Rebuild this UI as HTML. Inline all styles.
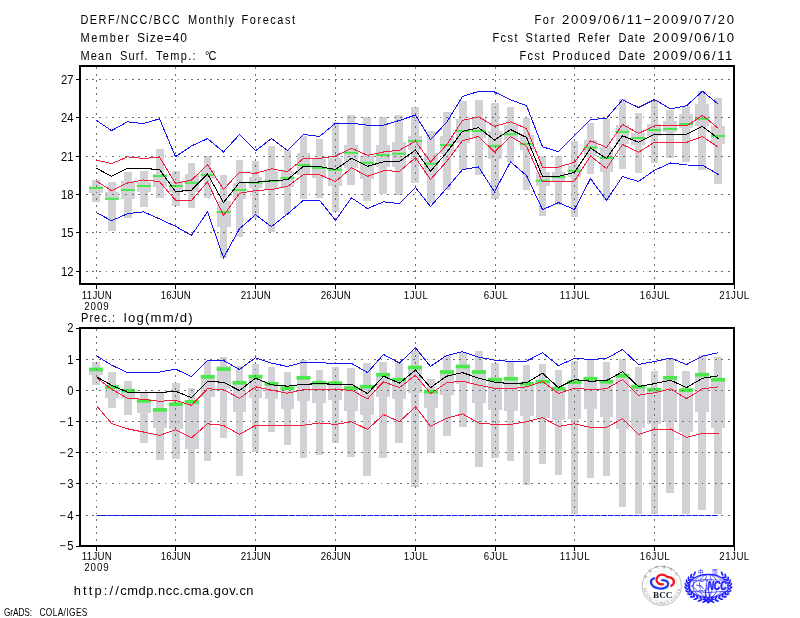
<!DOCTYPE html>
<html><head><meta charset="utf-8"><title>DERF/NCC/BCC Monthly Forecast</title>
<style>html,body{margin:0;padding:0;background:#fff}svg{display:block}text{font-family:'Liberation Sans', sans-serif;fill:#000}</style></head><body>
<svg width="800" height="618" viewBox="0 0 800 618">
<rect width="800" height="618" fill="#fff"/>
<g fill="#d2d2d6" shape-rendering="crispEdges">
<rect x="92.2" y="180.0" width="7.5" height="21.9"/>
<rect x="108.2" y="182.1" width="7.5" height="49.2"/>
<rect x="124.2" y="172.2" width="7.5" height="45.5"/>
<rect x="140.1" y="171.2" width="7.5" height="35.3"/>
<rect x="156.1" y="149.4" width="7.5" height="48.2"/>
<rect x="172.0" y="171.2" width="7.5" height="34.5"/>
<rect x="187.9" y="163.0" width="7.5" height="44.8"/>
<rect x="203.9" y="156.0" width="7.5" height="41.8"/>
<rect x="219.8" y="175.1" width="7.5" height="83.3"/>
<rect x="235.8" y="160.2" width="7.5" height="76.5"/>
<rect x="251.8" y="161.2" width="7.5" height="57.1"/>
<rect x="267.7" y="146.3" width="7.5" height="85.2"/>
<rect x="283.6" y="150.0" width="7.5" height="65.3"/>
<rect x="299.6" y="136.2" width="7.5" height="62.4"/>
<rect x="315.5" y="139.0" width="7.5" height="58.7"/>
<rect x="331.5" y="122.2" width="7.5" height="89.6"/>
<rect x="347.4" y="115.1" width="7.5" height="69.4"/>
<rect x="363.4" y="117.1" width="7.5" height="83.6"/>
<rect x="379.3" y="117.3" width="7.5" height="76.5"/>
<rect x="395.3" y="115.0" width="7.5" height="80.3"/>
<rect x="411.2" y="107.0" width="7.5" height="76.2"/>
<rect x="427.2" y="131.0" width="7.5" height="71.5"/>
<rect x="443.1" y="112.0" width="7.5" height="77.7"/>
<rect x="459.1" y="101.1" width="7.5" height="69.3"/>
<rect x="475.0" y="100.1" width="7.5" height="74.5"/>
<rect x="491.0" y="103.1" width="7.5" height="96.2"/>
<rect x="506.9" y="107.1" width="7.5" height="54.4"/>
<rect x="522.9" y="118.2" width="7.5" height="71.3"/>
<rect x="538.8" y="156.0" width="7.5" height="60.3"/>
<rect x="554.8" y="156.0" width="7.5" height="49.2"/>
<rect x="570.8" y="141.1" width="7.5" height="75.6"/>
<rect x="586.7" y="123.1" width="7.5" height="50.6"/>
<rect x="602.6" y="119.0" width="7.5" height="80.5"/>
<rect x="618.6" y="99.1" width="7.5" height="69.6"/>
<rect x="634.5" y="113.0" width="7.5" height="59.6"/>
<rect x="650.5" y="100.1" width="7.5" height="62.5"/>
<rect x="666.4" y="109.5" width="7.5" height="48.2"/>
<rect x="682.4" y="106.2" width="7.5" height="55.5"/>
<rect x="698.4" y="90.7" width="7.5" height="79.0"/>
<rect x="714.3" y="98.1" width="7.5" height="85.5"/>
<rect x="89.1" y="186.2" width="13.8" height="6.5"/>
<rect x="105.0" y="191.9" width="13.8" height="7.7"/>
<rect x="121.0" y="181.2" width="13.8" height="17.5"/>
<rect x="136.9" y="181.9" width="13.8" height="10.0"/>
<rect x="152.9" y="174.4" width="13.8" height="12.2"/>
<rect x="168.8" y="181.2" width="13.8" height="10.7"/>
<rect x="184.8" y="174.2" width="13.8" height="18.2"/>
<rect x="200.7" y="169.9" width="13.8" height="9.3"/>
<rect x="216.7" y="201.1" width="13.8" height="26.3"/>
<rect x="232.6" y="183.0" width="13.8" height="15.6"/>
<rect x="248.6" y="176.8" width="13.8" height="11.2"/>
<rect x="264.6" y="171.1" width="13.8" height="18.2"/>
<rect x="280.5" y="171.2" width="13.8" height="16.2"/>
<rect x="296.5" y="153.1" width="13.8" height="21.9"/>
<rect x="312.4" y="158.8" width="13.8" height="18.8"/>
<rect x="328.4" y="158.1" width="13.8" height="28.2"/>
<rect x="344.3" y="145.0" width="13.8" height="22.5"/>
<rect x="360.2" y="155.6" width="13.8" height="23.8"/>
<rect x="376.2" y="145.2" width="13.8" height="22.2"/>
<rect x="392.2" y="142.1" width="13.8" height="24.4"/>
<rect x="408.1" y="136.2" width="13.8" height="13.8"/>
<rect x="424.1" y="153.1" width="13.8" height="20.7"/>
<rect x="440.0" y="136.2" width="13.8" height="17.5"/>
<rect x="455.9" y="119.0" width="13.8" height="23.5"/>
<rect x="471.9" y="118.2" width="13.8" height="20.0"/>
<rect x="487.9" y="130.8" width="13.8" height="28.2"/>
<rect x="503.8" y="124.5" width="13.8" height="15.5"/>
<rect x="519.8" y="134.5" width="13.8" height="15.5"/>
<rect x="535.7" y="172.0" width="13.8" height="13.8"/>
<rect x="551.6" y="172.0" width="13.8" height="8.8"/>
<rect x="567.6" y="166.1" width="13.8" height="10.7"/>
<rect x="583.6" y="139.9" width="13.8" height="16.2"/>
<rect x="599.5" y="147.4" width="13.8" height="24.3"/>
<rect x="615.5" y="124.9" width="13.8" height="18.7"/>
<rect x="631.4" y="133.0" width="13.8" height="11.5"/>
<rect x="647.4" y="124.0" width="13.8" height="11.5"/>
<rect x="663.3" y="121.2" width="13.8" height="11.2"/>
<rect x="679.2" y="114.0" width="13.8" height="14.1"/>
<rect x="695.2" y="104.0" width="13.8" height="21.6"/>
<rect x="711.1" y="126.0" width="13.8" height="18.4"/>
</g>
<g fill="#4be84b">
<rect x="89.0" y="187.0" width="14" height="2"/>
<rect x="105.0" y="197.8" width="14" height="2"/>
<rect x="120.9" y="189.0" width="14" height="2"/>
<rect x="136.8" y="185.0" width="14" height="2"/>
<rect x="152.8" y="175.0" width="14" height="2"/>
<rect x="168.8" y="185.0" width="14" height="2"/>
<rect x="184.7" y="181.8" width="14" height="2"/>
<rect x="200.6" y="174.0" width="14" height="2"/>
<rect x="216.6" y="211.0" width="14" height="2"/>
<rect x="232.5" y="189.0" width="14" height="2"/>
<rect x="248.5" y="181.7" width="14" height="2"/>
<rect x="264.4" y="180.0" width="14" height="2"/>
<rect x="280.4" y="176.9" width="14" height="2"/>
<rect x="296.4" y="164.0" width="14" height="2"/>
<rect x="312.3" y="167.0" width="14" height="2"/>
<rect x="328.2" y="168.9" width="14" height="2"/>
<rect x="344.2" y="151.8" width="14" height="2"/>
<rect x="360.1" y="161.8" width="14" height="2"/>
<rect x="376.1" y="154.0" width="14" height="2"/>
<rect x="392.1" y="152.7" width="14" height="2"/>
<rect x="408.0" y="140.0" width="14" height="2"/>
<rect x="423.9" y="162.8" width="14" height="2"/>
<rect x="439.9" y="144.0" width="14" height="2"/>
<rect x="455.8" y="130.0" width="14" height="2"/>
<rect x="471.8" y="130.0" width="14" height="2"/>
<rect x="487.8" y="144.9" width="14" height="2"/>
<rect x="503.7" y="133.2" width="14" height="2"/>
<rect x="519.6" y="143.0" width="14" height="2"/>
<rect x="535.6" y="179.8" width="14" height="2"/>
<rect x="551.5" y="176.0" width="14" height="2"/>
<rect x="567.5" y="169.8" width="14" height="2"/>
<rect x="583.5" y="146.5" width="14" height="2"/>
<rect x="599.4" y="157.0" width="14" height="2"/>
<rect x="615.4" y="130.8" width="14" height="2"/>
<rect x="631.3" y="137.0" width="14" height="2"/>
<rect x="647.2" y="129.0" width="14" height="2"/>
<rect x="663.2" y="128.0" width="14" height="2"/>
<rect x="679.1" y="123.0" width="14" height="2"/>
<rect x="695.1" y="117.8" width="14" height="2"/>
<rect x="711.0" y="135.0" width="14" height="2"/>
</g>
<g stroke="#6e6e6e" stroke-width="1" stroke-dasharray="1.8 4.75" fill="none" shape-rendering="crispEdges">
<line x1="85.9" y1="79.2" x2="734" y2="79.2"/>
<line x1="85.9" y1="117.6" x2="734" y2="117.6"/>
<line x1="85.9" y1="156.1" x2="734" y2="156.1"/>
<line x1="85.9" y1="194.5" x2="734" y2="194.5"/>
<line x1="85.9" y1="232.9" x2="734" y2="232.9"/>
<line x1="85.9" y1="271.4" x2="734" y2="271.4"/>
<line x1="96.5" y1="67.2" x2="96.5" y2="284"/>
<line x1="175.5" y1="67.2" x2="175.5" y2="284"/>
<line x1="255.5" y1="67.2" x2="255.5" y2="284"/>
<line x1="335.5" y1="67.2" x2="335.5" y2="284"/>
<line x1="415.5" y1="67.2" x2="415.5" y2="284"/>
<line x1="495.5" y1="67.2" x2="495.5" y2="284"/>
<line x1="574.5" y1="67.2" x2="574.5" y2="284"/>
<line x1="654.5" y1="67.2" x2="654.5" y2="284"/>
</g>
<polyline points="96.5,120.4 111.5,130.6 127.5,121.8 143.5,123.6 159.5,118.8 175.5,156.7 191.5,145.9 207.5,138.6 223.5,151.9 239.5,134.6 255.5,150.7 271.5,138.6 287.5,150.6 303.5,134.5 319.5,136.5 335.5,123.2 351.5,123.2 367.5,125.2 383.5,125.2 399.5,120.4 415.5,115.0 430.5,139.5 446.5,122.5 462.5,96.5 478.5,91.4 494.5,92.0 510.5,99.7 526.5,105.7 542.5,146.8 558.5,151.7 574.5,135.5 590.5,119.5 606.5,118.4 622.5,99.7 638.5,107.5 654.5,99.5 670.5,109.0 686.5,105.8 702.5,91.2 718.5,104.4" fill="none" stroke="#1414f0" stroke-width="1.0" stroke-linejoin="miter" shape-rendering="crispEdges"/>
<polyline points="96.5,212.7 111.5,220.7 127.5,213.7 143.5,211.8 159.5,218.9 175.5,226.3 191.5,235.3 207.5,211.8 223.5,257.8 239.5,228.7 255.5,214.8 271.5,226.6 287.5,213.9 303.5,200.2 319.5,200.2 335.5,220.3 351.5,197.8 367.5,208.6 383.5,201.8 399.5,203.6 415.5,187.5 430.5,206.5 446.5,188.5 462.5,169.6 478.5,167.0 494.5,191.8 510.5,161.8 526.5,175.5 542.5,209.6 558.5,202.6 574.5,209.5 590.5,178.6 606.5,200.3 622.5,176.6 638.5,181.5 654.5,170.3 670.5,163.0 686.5,165.0 702.5,165.2 718.5,174.6" fill="none" stroke="#1414f0" stroke-width="1.0" stroke-linejoin="miter" shape-rendering="crispEdges"/>
<polyline points="96.5,160.1 111.5,163.6 127.5,156.9 143.5,158.4 159.5,157.2 175.5,183.4 191.5,180.1 207.5,164.6 223.5,189.5 239.5,172.2 255.5,173.3 271.5,168.8 287.5,171.6 303.5,158.4 319.5,158.4 335.5,156.0 351.5,148.2 367.5,155.4 383.5,152.0 399.5,150.1 415.5,141.2 430.5,162.1 446.5,145.0 462.5,120.4 478.5,116.9 494.5,126.3 510.5,121.8 526.5,128.5 542.5,167.1 558.5,167.1 574.5,162.2 590.5,140.7 606.5,147.5 622.5,124.5 638.5,133.4 654.5,125.8 670.5,125.9 686.5,125.9 702.5,115.4 718.5,128.5" fill="none" stroke="#f01e3c" stroke-width="1.0" stroke-linejoin="miter" shape-rendering="crispEdges"/>
<polyline points="96.5,181.0 111.5,190.6 127.5,183.0 143.5,180.0 159.5,181.6 175.5,200.3 191.5,200.3 207.5,181.9 223.5,215.6 239.5,193.3 255.5,190.6 271.5,189.5 287.5,186.4 303.5,174.4 319.5,174.7 335.5,181.6 351.5,167.7 367.5,176.4 383.5,170.7 399.5,171.3 415.5,157.7 430.5,179.4 446.5,161.6 462.5,140.6 478.5,136.5 494.5,152.0 510.5,136.5 526.5,146.1 542.5,182.0 558.5,181.2 574.5,181.0 590.5,155.9 606.5,168.6 622.5,144.5 638.5,152.3 654.5,142.2 670.5,142.4 686.5,142.4 702.5,136.5 718.5,147.4" fill="none" stroke="#f01e3c" stroke-width="1.0" stroke-linejoin="miter" shape-rendering="crispEdges"/>
<polyline points="96.5,168.2 111.5,176.4 127.5,168.2 143.5,168.5 159.5,169.5 175.5,191.6 191.5,190.3 207.5,173.8 223.5,202.6 239.5,182.4 255.5,182.3 271.5,180.8 287.5,179.7 303.5,166.3 319.5,166.6 335.5,169.5 351.5,158.4 367.5,166.3 383.5,161.8 399.5,161.3 415.5,150.1 430.5,171.3 446.5,152.7 462.5,131.3 478.5,127.7 494.5,140.0 510.5,129.6 526.5,137.4 542.5,176.4 558.5,176.4 574.5,172.4 590.5,148.1 606.5,158.5 622.5,135.7 638.5,142.3 654.5,134.3 670.5,134.4 686.5,134.3 702.5,126.4 718.5,138.7" fill="none" stroke="#000" stroke-width="1.05" stroke-linejoin="miter" shape-rendering="crispEdges"/>
<rect x="80" y="66" width="654" height="218" fill="none" stroke="#000" stroke-width="2"/>
<g stroke="#000" stroke-width="1" shape-rendering="crispEdges">
<line x1="76" y1="79.2" x2="80" y2="79.2"/>
<line x1="76" y1="117.6" x2="80" y2="117.6"/>
<line x1="76" y1="156.1" x2="80" y2="156.1"/>
<line x1="76" y1="194.5" x2="80" y2="194.5"/>
<line x1="76" y1="232.9" x2="80" y2="232.9"/>
<line x1="76" y1="271.4" x2="80" y2="271.4"/>
<line x1="96.5" y1="284" x2="96.5" y2="288.5"/>
<line x1="175.5" y1="284" x2="175.5" y2="288.5"/>
<line x1="255.5" y1="284" x2="255.5" y2="288.5"/>
<line x1="335.5" y1="284" x2="335.5" y2="288.5"/>
<line x1="415.5" y1="284" x2="415.5" y2="288.5"/>
<line x1="495.5" y1="284" x2="495.5" y2="288.5"/>
<line x1="574.5" y1="284" x2="574.5" y2="288.5"/>
<line x1="654.5" y1="284" x2="654.5" y2="288.5"/>
<line x1="734.0" y1="284" x2="734.0" y2="288.5"/>
</g>
<text transform="translate(73.4,83.6) scale(0.92,1)" font-size="12.2" text-anchor="end">27</text>
<text transform="translate(73.4,122.0) scale(0.92,1)" font-size="12.2" text-anchor="end">24</text>
<text transform="translate(73.4,160.5) scale(0.92,1)" font-size="12.2" text-anchor="end">21</text>
<text transform="translate(73.4,198.9) scale(0.92,1)" font-size="12.2" text-anchor="end">18</text>
<text transform="translate(73.4,237.3) scale(0.92,1)" font-size="12.2" text-anchor="end">15</text>
<text transform="translate(73.4,275.8) scale(0.92,1)" font-size="12.2" text-anchor="end">12</text>
<text transform="translate(96.8,298.6) scale(0.84,1)" font-size="11.6" text-anchor="middle" textLength="35.7" lengthAdjust="spacing">11JUN</text>
<text transform="translate(175.8,298.6) scale(0.84,1)" font-size="11.6" text-anchor="middle" textLength="35.7" lengthAdjust="spacing">16JUN</text>
<text transform="translate(255.8,298.6) scale(0.84,1)" font-size="11.6" text-anchor="middle" textLength="35.7" lengthAdjust="spacing">21JUN</text>
<text transform="translate(335.8,298.6) scale(0.84,1)" font-size="11.6" text-anchor="middle" textLength="35.7" lengthAdjust="spacing">26JUN</text>
<text transform="translate(415.8,298.6) scale(0.84,1)" font-size="11.6" text-anchor="middle" textLength="28.6" lengthAdjust="spacing">1JUL</text>
<text transform="translate(495.8,298.6) scale(0.84,1)" font-size="11.6" text-anchor="middle" textLength="28.6" lengthAdjust="spacing">6JUL</text>
<text transform="translate(574.8,298.6) scale(0.84,1)" font-size="11.6" text-anchor="middle" textLength="35.7" lengthAdjust="spacing">11JUL</text>
<text transform="translate(654.8,298.6) scale(0.84,1)" font-size="11.6" text-anchor="middle" textLength="35.7" lengthAdjust="spacing">16JUL</text>
<text transform="translate(734.3,298.6) scale(0.84,1)" font-size="11.6" text-anchor="middle" textLength="35.7" lengthAdjust="spacing">21JUL</text>
<text transform="translate(96.5,310.20000000000005) scale(0.84,1)" font-size="11.6" text-anchor="middle" textLength="29.2" lengthAdjust="spacing">2009</text>
<g fill="#d2d2d6" shape-rendering="crispEdges">
<rect x="92.2" y="362.1" width="7.5" height="22.7"/>
<rect x="108.2" y="372.1" width="7.5" height="35.6"/>
<rect x="124.2" y="381.2" width="7.5" height="33.4"/>
<rect x="140.1" y="393.2" width="7.5" height="49.5"/>
<rect x="156.1" y="393.2" width="7.5" height="66.4"/>
<rect x="172.0" y="383.2" width="7.5" height="75.4"/>
<rect x="187.9" y="388.2" width="7.5" height="94.5"/>
<rect x="203.9" y="361.1" width="7.5" height="99.5"/>
<rect x="219.8" y="357.1" width="7.5" height="80.6"/>
<rect x="235.8" y="366.1" width="7.5" height="109.6"/>
<rect x="251.8" y="364.1" width="7.5" height="87.5"/>
<rect x="267.7" y="367.1" width="7.5" height="64.5"/>
<rect x="283.6" y="372.1" width="7.5" height="72.6"/>
<rect x="299.6" y="360.1" width="7.5" height="97.5"/>
<rect x="315.5" y="370.1" width="7.5" height="84.6"/>
<rect x="331.5" y="367.1" width="7.5" height="75.6"/>
<rect x="347.4" y="368.1" width="7.5" height="88.6"/>
<rect x="363.4" y="363.1" width="7.5" height="112.6"/>
<rect x="379.3" y="362.1" width="7.5" height="95.5"/>
<rect x="395.3" y="363.1" width="7.5" height="79.6"/>
<rect x="411.2" y="351.1" width="7.5" height="135.6"/>
<rect x="427.2" y="379.2" width="7.5" height="73.4"/>
<rect x="443.1" y="355.1" width="7.5" height="80.5"/>
<rect x="459.1" y="352.1" width="7.5" height="74.5"/>
<rect x="475.0" y="351.1" width="7.5" height="115.6"/>
<rect x="491.0" y="363.1" width="7.5" height="94.5"/>
<rect x="506.9" y="362.1" width="7.5" height="98.5"/>
<rect x="522.9" y="365.1" width="7.5" height="119.6"/>
<rect x="538.8" y="364.1" width="7.5" height="99.6"/>
<rect x="554.8" y="370.1" width="7.5" height="104.6"/>
<rect x="570.8" y="361.1" width="7.5" height="152.7"/>
<rect x="586.7" y="360.1" width="7.5" height="117.5"/>
<rect x="602.6" y="362.1" width="7.5" height="113.5"/>
<rect x="618.6" y="359.1" width="7.5" height="147.6"/>
<rect x="634.5" y="367.1" width="7.5" height="146.7"/>
<rect x="650.5" y="371.1" width="7.5" height="142.7"/>
<rect x="666.4" y="359.1" width="7.5" height="133.6"/>
<rect x="682.4" y="371.1" width="7.5" height="142.7"/>
<rect x="698.4" y="355.1" width="7.5" height="154.7"/>
<rect x="714.3" y="357.1" width="7.5" height="156.7"/>
<rect x="89.1" y="368.1" width="13.8" height="7.1"/>
<rect x="105.0" y="385.2" width="13.8" height="12.6"/>
<rect x="121.0" y="389.1" width="13.8" height="8.5"/>
<rect x="136.9" y="399.3" width="13.8" height="13.7"/>
<rect x="152.9" y="408.3" width="13.8" height="19.2"/>
<rect x="168.8" y="403.3" width="13.8" height="25.2"/>
<rect x="184.8" y="400.3" width="13.8" height="48.3"/>
<rect x="200.7" y="375.2" width="13.8" height="22.0"/>
<rect x="216.7" y="366.0" width="13.8" height="23.0"/>
<rect x="232.6" y="381.2" width="13.8" height="31.2"/>
<rect x="248.6" y="375.2" width="13.8" height="22.5"/>
<rect x="264.6" y="382.2" width="13.8" height="16.7"/>
<rect x="280.5" y="386.8" width="13.8" height="22.1"/>
<rect x="296.5" y="376.2" width="13.8" height="24.5"/>
<rect x="312.4" y="381.2" width="13.8" height="21.7"/>
<rect x="328.4" y="382.2" width="13.8" height="17.5"/>
<rect x="344.3" y="386.2" width="13.8" height="24.7"/>
<rect x="360.2" y="385.2" width="13.8" height="29.5"/>
<rect x="376.2" y="373.2" width="13.8" height="23.6"/>
<rect x="392.2" y="378.2" width="13.8" height="20.7"/>
<rect x="408.1" y="366.1" width="13.8" height="27.1"/>
<rect x="424.1" y="390.2" width="13.8" height="17.5"/>
<rect x="440.0" y="370.1" width="13.8" height="24.7"/>
<rect x="455.9" y="364.9" width="13.8" height="19.0"/>
<rect x="471.9" y="370.1" width="13.8" height="32.5"/>
<rect x="487.9" y="377.6" width="13.8" height="31.9"/>
<rect x="503.8" y="377.2" width="13.8" height="33.4"/>
<rect x="519.8" y="382.2" width="13.8" height="33.4"/>
<rect x="535.7" y="380.2" width="13.8" height="38.2"/>
<rect x="551.6" y="386.8" width="13.8" height="32.7"/>
<rect x="567.6" y="380.2" width="13.8" height="38.5"/>
<rect x="583.6" y="377.2" width="13.8" height="31.7"/>
<rect x="599.5" y="380.2" width="13.8" height="37.1"/>
<rect x="615.5" y="374.2" width="13.8" height="54.6"/>
<rect x="631.4" y="385.2" width="13.8" height="42.6"/>
<rect x="647.4" y="388.2" width="13.8" height="35.6"/>
<rect x="663.3" y="376.2" width="13.8" height="45.5"/>
<rect x="679.2" y="388.8" width="13.8" height="43.0"/>
<rect x="695.2" y="373.2" width="13.8" height="38.5"/>
<rect x="711.1" y="378.2" width="13.8" height="49.6"/>
</g>
<g fill="#4be84b">
<rect x="89.0" y="367.6" width="14" height="3.7"/>
<rect x="105.0" y="385.3" width="14" height="3.7"/>
<rect x="120.9" y="388.8" width="14" height="3.7"/>
<rect x="136.8" y="399.0" width="14" height="3.7"/>
<rect x="152.8" y="408.0" width="14" height="3.7"/>
<rect x="168.8" y="402.4" width="14" height="3.7"/>
<rect x="184.7" y="400.0" width="14" height="3.7"/>
<rect x="200.6" y="374.9" width="14" height="3.7"/>
<rect x="216.6" y="367.2" width="14" height="3.7"/>
<rect x="232.5" y="380.9" width="14" height="3.7"/>
<rect x="248.5" y="374.8" width="14" height="3.7"/>
<rect x="264.4" y="381.9" width="14" height="3.7"/>
<rect x="280.4" y="386.3" width="14" height="3.7"/>
<rect x="296.4" y="375.9" width="14" height="3.7"/>
<rect x="312.3" y="380.9" width="14" height="3.7"/>
<rect x="328.2" y="381.3" width="14" height="3.7"/>
<rect x="344.2" y="386.3" width="14" height="3.7"/>
<rect x="360.1" y="384.9" width="14" height="3.7"/>
<rect x="376.1" y="372.9" width="14" height="3.7"/>
<rect x="392.1" y="377.8" width="14" height="3.7"/>
<rect x="408.0" y="365.6" width="14" height="3.7"/>
<rect x="423.9" y="389.8" width="14" height="3.7"/>
<rect x="439.9" y="370.2" width="14" height="3.7"/>
<rect x="455.8" y="364.6" width="14" height="3.7"/>
<rect x="471.8" y="370.2" width="14" height="3.7"/>
<rect x="487.8" y="377.8" width="14" height="3.7"/>
<rect x="503.7" y="376.9" width="14" height="3.7"/>
<rect x="519.6" y="381.8" width="14" height="3.7"/>
<rect x="535.6" y="379.8" width="14" height="3.7"/>
<rect x="551.5" y="386.8" width="14" height="3.7"/>
<rect x="567.5" y="380.3" width="14" height="3.7"/>
<rect x="583.5" y="376.9" width="14" height="3.7"/>
<rect x="599.4" y="379.8" width="14" height="3.7"/>
<rect x="615.4" y="373.9" width="14" height="3.7"/>
<rect x="631.3" y="384.9" width="14" height="3.7"/>
<rect x="647.2" y="387.8" width="14" height="3.7"/>
<rect x="663.2" y="375.9" width="14" height="3.7"/>
<rect x="679.1" y="388.3" width="14" height="3.7"/>
<rect x="695.1" y="372.9" width="14" height="3.7"/>
<rect x="711.0" y="377.9" width="14" height="3.7"/>
</g>
<g stroke="#6e6e6e" stroke-width="1" stroke-dasharray="1.8 4.75" fill="none" shape-rendering="crispEdges">
<line x1="85.9" y1="359.5" x2="734" y2="359.5"/>
<line x1="85.9" y1="390.6" x2="734" y2="390.6"/>
<line x1="85.9" y1="421.6" x2="734" y2="421.6"/>
<line x1="85.9" y1="452.4" x2="734" y2="452.4"/>
<line x1="85.9" y1="483.4" x2="734" y2="483.4"/>
<line x1="85.9" y1="515.4" x2="734" y2="515.4"/>
<line x1="96.5" y1="329.2" x2="96.5" y2="546"/>
<line x1="175.5" y1="329.2" x2="175.5" y2="546"/>
<line x1="255.5" y1="329.2" x2="255.5" y2="546"/>
<line x1="335.5" y1="329.2" x2="335.5" y2="546"/>
<line x1="415.5" y1="329.2" x2="415.5" y2="546"/>
<line x1="495.5" y1="329.2" x2="495.5" y2="546"/>
<line x1="574.5" y1="329.2" x2="574.5" y2="546"/>
<line x1="654.5" y1="329.2" x2="654.5" y2="546"/>
</g>
<polyline points="96.5,355.7 111.5,365.1 127.5,372.6 143.5,372.6 159.5,372.1 175.5,369.1 191.5,376.6 207.5,360.5 223.5,360.5 239.5,369.5 255.5,357.7 271.5,363.1 287.5,366.5 303.5,362.1 319.5,362.7 335.5,363.5 351.5,363.5 367.5,372.6 383.5,354.5 399.5,363.1 415.5,347.7 430.5,366.5 446.5,355.5 462.5,351.7 478.5,357.1 494.5,360.1 510.5,361.5 526.5,361.1 542.5,352.7 558.5,365.7 574.5,358.3 590.5,359.5 606.5,358.5 622.5,349.5 638.5,364.5 654.5,361.5 670.5,358.1 686.5,364.5 702.5,356.1 718.5,352.7" fill="none" stroke="#1414f0" stroke-width="1.0" stroke-linejoin="miter" shape-rendering="crispEdges"/>
<polyline points="96.5,377.6 111.5,389.2 127.5,398.3 143.5,399.3 159.5,401.3 175.5,400.3 191.5,405.3 207.5,388.8 223.5,389.6 239.5,398.3 255.5,386.8 271.5,390.2 287.5,393.2 303.5,389.6 319.5,389.6 335.5,389.6 351.5,390.2 367.5,398.9 383.5,381.8 399.5,387.6 415.5,375.2 430.5,393.6 446.5,382.8 462.5,381.2 478.5,385.2 494.5,388.2 510.5,388.8 526.5,386.8 542.5,381.6 558.5,393.6 574.5,388.2 590.5,389.6 606.5,388.8 622.5,379.6 638.5,395.2 654.5,392.8 670.5,388.8 686.5,398.7 702.5,388.8 718.5,386.8" fill="none" stroke="#f01e3c" stroke-width="1.0" stroke-linejoin="miter" shape-rendering="crispEdges"/>
<polyline points="96.5,405.7 111.5,423.4 127.5,428.8 143.5,432.0 159.5,435.4 175.5,429.8 191.5,437.8 207.5,423.8 223.5,425.4 239.5,434.4 255.5,425.4 271.5,425.4 287.5,425.4 303.5,425.2 319.5,423.0 335.5,424.4 351.5,421.7 367.5,429.4 383.5,414.6 399.5,421.6 415.5,406.7 430.5,426.4 446.5,418.3 462.5,413.9 478.5,423.0 494.5,424.4 510.5,424.4 526.5,421.7 542.5,417.7 558.5,426.4 574.5,423.8 590.5,427.4 606.5,427.4 622.5,418.7 638.5,434.4 654.5,429.4 670.5,429.0 686.5,437.4 702.5,433.4 718.5,433.4" fill="none" stroke="#f01e3c" stroke-width="1.0" stroke-linejoin="miter" shape-rendering="crispEdges"/>
<polyline points="96.5,376.8 111.5,385.2 127.5,392.2 143.5,392.6 159.5,392.6 175.5,391.2 191.5,397.7 207.5,381.6 223.5,382.2 239.5,390.6 255.5,378.2 271.5,384.8 287.5,386.2 303.5,384.2 319.5,383.8 335.5,384.2 351.5,384.2 367.5,393.6 383.5,376.2 399.5,383.2 415.5,370.1 430.5,387.6 446.5,376.2 462.5,372.6 478.5,378.2 494.5,382.2 510.5,383.6 526.5,382.8 542.5,373.2 558.5,387.6 574.5,379.6 590.5,381.2 606.5,380.6 622.5,371.7 638.5,386.6 654.5,383.6 670.5,380.2 686.5,387.6 702.5,378.2 718.5,375.8" fill="none" stroke="#000" stroke-width="1.05" stroke-linejoin="miter" shape-rendering="crispEdges"/>
<rect x="80" y="328" width="654" height="218" fill="none" stroke="#000" stroke-width="2"/>
<g stroke="#000" stroke-width="1" shape-rendering="crispEdges">
<line x1="76" y1="328.0" x2="80" y2="328.0"/>
<line x1="76" y1="359.5" x2="80" y2="359.5"/>
<line x1="76" y1="390.6" x2="80" y2="390.6"/>
<line x1="76" y1="421.6" x2="80" y2="421.6"/>
<line x1="76" y1="452.4" x2="80" y2="452.4"/>
<line x1="76" y1="483.4" x2="80" y2="483.4"/>
<line x1="76" y1="515.4" x2="80" y2="515.4"/>
<line x1="76" y1="546.0" x2="80" y2="546.0"/>
<line x1="96.5" y1="546" x2="96.5" y2="550.5"/>
<line x1="175.5" y1="546" x2="175.5" y2="550.5"/>
<line x1="255.5" y1="546" x2="255.5" y2="550.5"/>
<line x1="335.5" y1="546" x2="335.5" y2="550.5"/>
<line x1="415.5" y1="546" x2="415.5" y2="550.5"/>
<line x1="495.5" y1="546" x2="495.5" y2="550.5"/>
<line x1="574.5" y1="546" x2="574.5" y2="550.5"/>
<line x1="654.5" y1="546" x2="654.5" y2="550.5"/>
<line x1="734.0" y1="546" x2="734.0" y2="550.5"/>
</g>
<text transform="translate(73.4,332.4) scale(0.92,1)" font-size="12.2" text-anchor="end">2</text>
<text transform="translate(73.4,363.9) scale(0.92,1)" font-size="12.2" text-anchor="end">1</text>
<text transform="translate(73.4,395.0) scale(0.92,1)" font-size="12.2" text-anchor="end">0</text>
<text transform="translate(73.4,426.0) scale(0.92,1)" font-size="12.2" text-anchor="end">−<tspan dx="1.6">1</tspan></text>
<text transform="translate(73.4,456.8) scale(0.92,1)" font-size="12.2" text-anchor="end">−<tspan dx="1.6">2</tspan></text>
<text transform="translate(73.4,487.8) scale(0.92,1)" font-size="12.2" text-anchor="end">−<tspan dx="1.6">3</tspan></text>
<text transform="translate(73.4,519.8) scale(0.92,1)" font-size="12.2" text-anchor="end">−<tspan dx="1.6">4</tspan></text>
<text transform="translate(73.4,550.4) scale(0.92,1)" font-size="12.2" text-anchor="end">−<tspan dx="1.6">5</tspan></text>
<text transform="translate(96.8,559.6) scale(0.84,1)" font-size="11.6" text-anchor="middle" textLength="35.7" lengthAdjust="spacing">11JUN</text>
<text transform="translate(175.8,559.6) scale(0.84,1)" font-size="11.6" text-anchor="middle" textLength="35.7" lengthAdjust="spacing">16JUN</text>
<text transform="translate(255.8,559.6) scale(0.84,1)" font-size="11.6" text-anchor="middle" textLength="35.7" lengthAdjust="spacing">21JUN</text>
<text transform="translate(335.8,559.6) scale(0.84,1)" font-size="11.6" text-anchor="middle" textLength="35.7" lengthAdjust="spacing">26JUN</text>
<text transform="translate(415.8,559.6) scale(0.84,1)" font-size="11.6" text-anchor="middle" textLength="28.6" lengthAdjust="spacing">1JUL</text>
<text transform="translate(495.8,559.6) scale(0.84,1)" font-size="11.6" text-anchor="middle" textLength="28.6" lengthAdjust="spacing">6JUL</text>
<text transform="translate(574.8,559.6) scale(0.84,1)" font-size="11.6" text-anchor="middle" textLength="35.7" lengthAdjust="spacing">11JUL</text>
<text transform="translate(654.8,559.6) scale(0.84,1)" font-size="11.6" text-anchor="middle" textLength="35.7" lengthAdjust="spacing">16JUL</text>
<text transform="translate(734.3,559.6) scale(0.84,1)" font-size="11.6" text-anchor="middle" textLength="35.7" lengthAdjust="spacing">21JUL</text>
<text transform="translate(96.5,571.2) scale(0.84,1)" font-size="11.6" text-anchor="middle" textLength="29.2" lengthAdjust="spacing">2009</text>
<line x1="96.5" y1="515.5" x2="718.5" y2="515.5" stroke="#1414f0" stroke-width="1.15" stroke-dasharray="5.7 0.8" stroke-dashoffset="2.2"/>
<g>
<text transform="translate(80.4,23.7) scale(0.84,1)" font-size="13.1" textLength="118.1" lengthAdjust="spacing">DERF/NCC/BCC</text>
<text transform="translate(188,23.7) scale(0.84,1)" font-size="13.1" textLength="54.8" lengthAdjust="spacing">Monthly</text>
<text transform="translate(241.6,23.7) scale(0.84,1)" font-size="13.1" textLength="63.6" lengthAdjust="spacing">Forecast</text>
</g>
<g>
<text transform="translate(80.4,42) scale(0.84,1)" font-size="13.1" textLength="57.9" lengthAdjust="spacing">Member</text>
<text transform="translate(137,42) scale(0.92,1)" font-size="13.1" textLength="54.3" lengthAdjust="spacing">Size=40</text>
</g>
<g>
<text transform="translate(80.4,60) scale(0.84,1)" font-size="13.1" textLength="37.1" lengthAdjust="spacing">Mean</text>
<text transform="translate(120,60) scale(0.84,1)" font-size="13.1" textLength="32.9" lengthAdjust="spacing">Surf.</text>
<text transform="translate(156,60) scale(0.84,1)" font-size="13.1" textLength="47.1" lengthAdjust="spacing">Temp.:</text>
<text transform="translate(205,60) scale(0.84,1)" font-size="13.1" textLength="13.6" lengthAdjust="spacing">°C</text>
</g>
<g>
<text transform="translate(534.4,23.6) scale(0.84,1)" font-size="13.1" textLength="23.8" lengthAdjust="spacing">For</text>
<text transform="translate(562,23.6) scale(1.0,1)" font-size="13.1" textLength="172.0" lengthAdjust="spacing">2009/06/11−2009/07/20</text>
</g>
<g>
<text transform="translate(492.4,41.6) scale(0.84,1)" font-size="13.1" textLength="30.0" lengthAdjust="spacing">Fcst</text>
<text transform="translate(525.6,41.6) scale(0.84,1)" font-size="13.1" textLength="52.9" lengthAdjust="spacing">Started</text>
<text transform="translate(578,41.6) scale(0.84,1)" font-size="13.1" textLength="38.1" lengthAdjust="spacing">Refer</text>
<text transform="translate(618.4,41.6) scale(0.84,1)" font-size="13.1" textLength="31.7" lengthAdjust="spacing">Date</text>
<text transform="translate(653,41.6) scale(1.0,1)" font-size="13.1" textLength="81.0" lengthAdjust="spacing">2009/06/10</text>
</g>
<g>
<text transform="translate(519.4,59.6) scale(0.84,1)" font-size="13.1" textLength="29.8" lengthAdjust="spacing">Fcst</text>
<text transform="translate(552.4,59.6) scale(0.84,1)" font-size="13.1" textLength="68.6" lengthAdjust="spacing">Produced</text>
<text transform="translate(618.4,59.6) scale(0.84,1)" font-size="13.1" textLength="31.7" lengthAdjust="spacing">Date</text>
<text transform="translate(653,59.6) scale(1.0,1)" font-size="13.1" textLength="79.4" lengthAdjust="spacing">2009/06/11</text>
</g>
<g>
<text transform="translate(81,322) scale(0.84,1)" font-size="13.1" textLength="40.5" lengthAdjust="spacing">Prec.:</text>
<text transform="translate(123.75,322) scale(1.0,1)" font-size="13.1" textLength="68.8" lengthAdjust="spacing">log(mm/d)</text>
</g>
<text transform="translate(0,595) scale(0.95,1)" font-size="13.6"><tspan x="77.6" textLength="47.4" lengthAdjust="spacing">http://</tspan><tspan x="126.5" textLength="140.4" lengthAdjust="spacing">cmdp.ncc.cma.gov.cn</tspan></text>
<g>
<text transform="translate(4,616) scale(0.8,1)" font-size="10.4" textLength="35.0" lengthAdjust="spacing">GrADS:</text>
<text transform="translate(39.4,616) scale(0.8,1)" font-size="10.4" textLength="60.0" lengthAdjust="spacing">COLA/IGES</text>
</g>
<g id="bcc">
<circle cx="661.8" cy="585.8" r="19.6" fill="#fff" stroke="#bdbdbd" stroke-width="1"/>
<circle cx="661.8" cy="585.8" r="15.6" fill="none" stroke="#e4e4e4" stroke-width="0.7"/>
<defs><path id="bccTop" d="M 644.4 585.8 A 17.4 17.4 0 0 1 679.2 585.8"/><path id="bccBot" d="M 643.2 585.8 A 18.6 18.6 0 0 0 680.4 585.8"/></defs>
<text font-size="3.6" style="font-family:'Liberation Sans','Noto Sans CJK SC',sans-serif;fill:#7a7a7a" text-anchor="middle" letter-spacing="3.2"><textPath href="#bccTop" startOffset="50%">北京气候中心</textPath></text>
<text font-size="3.3" style="font-family:'Liberation Serif',serif;fill:#777" text-anchor="middle" letter-spacing="0.5"><textPath href="#bccBot" startOffset="50%">BEIJING CLIMATE CENTER</textPath></text>
<g fill="none" stroke-linecap="round" stroke-linejoin="round" transform="translate(0,0.9)">
<path d="M662.6 583.4 C659.5 583.6 656.4 581.8 656.5 579 C656.6 575.8 659.2 573.7 662 573.8 C664.4 573.9 666.2 575 667.6 576.3 C669.8 575.9 672 576.8 673.2 578.6 C674.6 580.8 673.6 583.2 671.6 584.6" stroke="#f0141e" stroke-width="2.3"/>
<path d="M663.8 583.2 L662.6 583.4 M671.6 584.6 L670.6 585.3" stroke="#f0141e" stroke-width="1.1"/>
<path d="M653.8 577.6 C651.6 578.4 650.6 580 651 581.8 C651.6 584.6 654.8 586.8 658.6 587.4 C662.4 588 666 587.4 667.6 585 C669 582.8 667.8 580.4 665.4 579.7 C664.4 579.4 663.4 579.3 662.6 579.3" stroke="#1e3cf0" stroke-width="2.3"/>
<path d="M655 576.9 L653.8 577.6 M662.6 579.3 L661.4 579.1" stroke="#1e3cf0" stroke-width="1.1"/>
</g>
<text x="662.7" y="597.8" font-size="9" font-weight="bold" text-anchor="middle" textLength="19.2" lengthAdjust="spacingAndGlyphs" style="font-family:'Liberation Serif',serif;fill:#141e28">BCC</text>
</g>
<g id="ncc" fill="none" stroke="#2222ff">
<g fill="#2222ff" stroke="none">
<ellipse cx="722.1" cy="573.7" rx="2.5" ry="0.95" transform="rotate(67 722.1 573.7)"/>
<ellipse cx="725.5" cy="576.0" rx="2.5" ry="0.95" transform="rotate(78 725.5 576.0)"/>
<ellipse cx="723.5" cy="577.5" rx="2.1" ry="0.95" transform="rotate(0 723.5 577.5)"/>
<ellipse cx="728.1" cy="578.7" rx="2.5" ry="0.95" transform="rotate(91 728.1 578.7)"/>
<ellipse cx="725.9" cy="579.8" rx="2.1" ry="0.95" transform="rotate(13 725.9 579.8)"/>
<ellipse cx="729.8" cy="581.7" rx="2.5" ry="0.95" transform="rotate(106 729.8 581.7)"/>
<ellipse cx="727.4" cy="582.4" rx="2.1" ry="0.95" transform="rotate(29 727.4 582.4)"/>
<ellipse cx="730.6" cy="584.9" rx="2.5" ry="0.95" transform="rotate(122 730.6 584.9)"/>
<ellipse cx="728.2" cy="585.1" rx="2.1" ry="0.95" transform="rotate(46 728.2 585.1)"/>
<ellipse cx="730.5" cy="588.2" rx="2.5" ry="0.95" transform="rotate(139 730.5 588.2)"/>
<ellipse cx="728.0" cy="587.8" rx="2.1" ry="0.95" transform="rotate(64 728.0 587.8)"/>
<ellipse cx="729.3" cy="591.3" rx="2.5" ry="0.95" transform="rotate(156 729.3 591.3)"/>
<ellipse cx="727.0" cy="590.5" rx="2.1" ry="0.95" transform="rotate(81 727.0 590.5)"/>
<ellipse cx="727.3" cy="594.3" rx="2.5" ry="0.95" transform="rotate(170 727.3 594.3)"/>
<ellipse cx="725.2" cy="593.0" rx="2.1" ry="0.95" transform="rotate(95 725.2 593.0)"/>
<ellipse cx="724.4" cy="596.8" rx="2.5" ry="0.95" transform="rotate(182 724.4 596.8)"/>
<ellipse cx="722.6" cy="595.2" rx="2.1" ry="0.95" transform="rotate(108 722.6 595.2)"/>
<ellipse cx="720.8" cy="598.9" rx="2.5" ry="0.95" transform="rotate(193 720.8 598.9)"/>
<ellipse cx="719.4" cy="596.9" rx="2.1" ry="0.95" transform="rotate(118 719.4 596.9)"/>
<ellipse cx="716.7" cy="600.5" rx="2.5" ry="0.95" transform="rotate(202 716.7 600.5)"/>
<ellipse cx="715.8" cy="598.2" rx="2.1" ry="0.95" transform="rotate(127 715.8 598.2)"/>
<ellipse cx="712.2" cy="601.4" rx="2.5" ry="0.95" transform="rotate(211 712.2 601.4)"/>
<ellipse cx="711.8" cy="599.0" rx="2.1" ry="0.95" transform="rotate(135 711.8 599.0)"/>
<ellipse cx="707.5" cy="601.6" rx="2.5" ry="0.95" transform="rotate(-141 707.5 601.6)"/>
<ellipse cx="707.6" cy="599.2" rx="2.1" ry="0.95" transform="rotate(-217 707.6 599.2)"/>
<ellipse cx="694.5" cy="573.7" rx="2.5" ry="0.95" transform="rotate(113 694.5 573.7)"/>
<ellipse cx="691.1" cy="576.0" rx="2.5" ry="0.95" transform="rotate(102 691.1 576.0)"/>
<ellipse cx="693.1" cy="577.5" rx="2.1" ry="0.95" transform="rotate(180 693.1 577.5)"/>
<ellipse cx="688.5" cy="578.7" rx="2.5" ry="0.95" transform="rotate(89 688.5 578.7)"/>
<ellipse cx="690.7" cy="579.8" rx="2.1" ry="0.95" transform="rotate(167 690.7 579.8)"/>
<ellipse cx="686.8" cy="581.7" rx="2.5" ry="0.95" transform="rotate(74 686.8 581.7)"/>
<ellipse cx="689.2" cy="582.4" rx="2.1" ry="0.95" transform="rotate(151 689.2 582.4)"/>
<ellipse cx="686.0" cy="584.9" rx="2.5" ry="0.95" transform="rotate(58 686.0 584.9)"/>
<ellipse cx="688.4" cy="585.1" rx="2.1" ry="0.95" transform="rotate(134 688.4 585.1)"/>
<ellipse cx="686.1" cy="588.2" rx="2.5" ry="0.95" transform="rotate(41 686.1 588.2)"/>
<ellipse cx="688.6" cy="587.8" rx="2.1" ry="0.95" transform="rotate(116 688.6 587.8)"/>
<ellipse cx="687.3" cy="591.3" rx="2.5" ry="0.95" transform="rotate(24 687.3 591.3)"/>
<ellipse cx="689.6" cy="590.5" rx="2.1" ry="0.95" transform="rotate(99 689.6 590.5)"/>
<ellipse cx="689.3" cy="594.3" rx="2.5" ry="0.95" transform="rotate(10 689.3 594.3)"/>
<ellipse cx="691.4" cy="593.0" rx="2.1" ry="0.95" transform="rotate(85 691.4 593.0)"/>
<ellipse cx="692.2" cy="596.8" rx="2.5" ry="0.95" transform="rotate(-2 692.2 596.8)"/>
<ellipse cx="694.0" cy="595.2" rx="2.1" ry="0.95" transform="rotate(72 694.0 595.2)"/>
<ellipse cx="695.8" cy="598.9" rx="2.5" ry="0.95" transform="rotate(-13 695.8 598.9)"/>
<ellipse cx="697.2" cy="596.9" rx="2.1" ry="0.95" transform="rotate(62 697.2 596.9)"/>
<ellipse cx="699.9" cy="600.5" rx="2.5" ry="0.95" transform="rotate(-22 699.9 600.5)"/>
<ellipse cx="700.8" cy="598.2" rx="2.1" ry="0.95" transform="rotate(53 700.8 598.2)"/>
<ellipse cx="704.4" cy="601.4" rx="2.5" ry="0.95" transform="rotate(-31 704.4 601.4)"/>
<ellipse cx="704.8" cy="599.0" rx="2.1" ry="0.95" transform="rotate(45 704.8 599.0)"/>
<ellipse cx="709.1" cy="601.6" rx="2.5" ry="0.95" transform="rotate(321 709.1 601.6)"/>
<ellipse cx="709.0" cy="599.2" rx="2.1" ry="0.95" transform="rotate(397 709.0 599.2)"/>
</g>
<ellipse cx="708.3" cy="586" rx="19" ry="11.6" stroke-width="1.3" fill="#fff"/>
<ellipse cx="708.3" cy="586" rx="15.6" ry="11.6" stroke-width="0.7"/>
<ellipse cx="708.3" cy="586" rx="9.5" ry="11.6" stroke-width="0.7"/>
<ellipse cx="708.3" cy="586" rx="3.5" ry="11.6" stroke-width="0.7"/>
<line x1="689.3" y1="586" x2="727.3" y2="586" stroke-width="0.8"/>
<path d="M691.3 580.8 Q708.3 578 725.3 580.8 M691.3 591.2 Q708.3 594 725.3 591.2" stroke-width="0.7"/>
<path d="M693.8 583 l4 -2.4 l4.5 1 l3 -2.2 l2.2 2.6 l-1.4 3.2 l1 3 l-3.4 3 l-3.2 -1 l-2.6 1.2 l-2.8 -2.6 l-2 -1.6 z M696.3 585 l5 1 l2 3 M699.3 582.6 l1 6" stroke-width="0.8" fill="#fff"/>
<path d="M702.3 599.4 h12 M703.9 601.2 h8.8" stroke-width="1.3"/>
<path d="M705.0999999999999 597 L707.3 580 L709.5 597" stroke-width="1.1"/>
</g>
<rect x="706.7" y="580.4" width="20.6" height="10.6" rx="2" fill="#fff" fill-opacity="0.8"/>
<text x="717.1" y="590.2" font-size="13.4" font-weight="bold" font-style="italic" text-anchor="middle" textLength="19.4" lengthAdjust="spacingAndGlyphs" style="font-family:'Liberation Sans',sans-serif;fill:#2222ff;stroke:#2222ff;stroke-width:0.7">NCC</text>
<text x="700.7" y="573.6" font-size="5.4" text-anchor="middle" style="font-family:'Liberation Sans','Noto Sans CJK SC',sans-serif;fill:#2222ff">中</text>
<text x="714.9" y="573.6" font-size="5.4" text-anchor="middle" style="font-family:'Liberation Sans','Noto Sans CJK SC',sans-serif;fill:#2222ff">国</text>
</svg></body></html>
